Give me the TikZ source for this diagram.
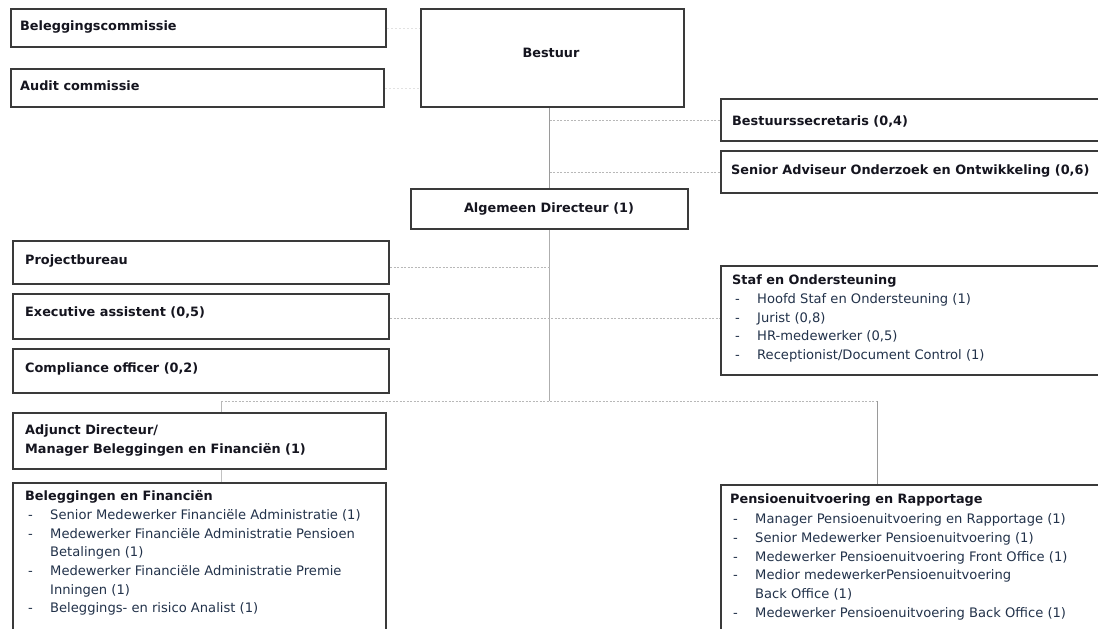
\documentclass[tikz,border=0pt]{standalone}
\usepackage{fontspec}
\setmainfont{DejaVu Sans}
\usetikzlibrary{calc}
\definecolor{boxc}{HTML}{3A3A3A}
\definecolor{titlec}{HTML}{15151F}
\definecolor{itemc}{HTML}{22324A}
\definecolor{linec}{HTML}{9A9A9A}
\definecolor{dotc}{HTML}{B8B8B8}
\definecolor{faintc}{HTML}{E2E2E2}
\newcommand{\itm}[1]{\strut\hspace*{3pt}\makebox[22pt][l]{-}#1}
\newcommand{\cnt}[1]{\strut\hspace*{25pt}#1}
\begin{document}
\begin{tikzpicture}[x=1pt,y=-1pt,
  box/.style={draw=boxc, line width=2.2pt, fill=white, inner sep=0pt, anchor=north west},
  ttl/.style={font=\fontsize{12.85}{15}\selectfont\bfseries, text=titlec, inner sep=0pt, anchor=base west},
  lst/.style={font=\fontsize{13.1}{18.7}\selectfont, text=itemc, inner sep=0pt, anchor=north west, align=left},
  conn/.style={draw=linec, line width=0.8pt},
  dotconn/.style={draw=dotc, line width=0.9pt, dash pattern=on 2pt off 1.5pt},
  faint/.style={draw=faintc, line width=0.8pt, dash pattern=on 2pt off 2pt}
]
\useasboundingbox (0,0) rectangle (1098,629);
\begin{scope}
\clip (0,0) rectangle (1098,629);
% boxes
\node[box, minimum width=375pt, minimum height=38pt] (bc) at (10,8) {};
\node[box, minimum width=373pt, minimum height=38pt] (ac) at (10,68) {};
\node[box, minimum width=263pt, minimum height=98pt] (best) at (420,8) {};
\node[box, minimum width=400pt, minimum height=42pt] (bsec) at (720,98) {};
\node[box, minimum width=400pt, minimum height=42pt] (sadv) at (720,150) {};
\node[box, minimum width=277pt, minimum height=40pt] (alg) at (410,188) {};
\node[box, minimum width=376pt, minimum height=43pt] (proj) at (12,240) {};
\node[box, minimum width=376pt, minimum height=45pt] (exec) at (12,293) {};
\node[box, minimum width=376pt, minimum height=44pt] (comp) at (12,348) {};
\node[box, minimum width=400pt, minimum height=109pt] (staf) at (720,265) {};
\node[box, minimum width=373pt, minimum height=56pt] (adj) at (12,412) {};
\node[box, minimum width=373pt, minimum height=170pt] (belf) at (12,482) {};
\node[box, minimum width=400pt, minimum height=170pt] (pens) at (720,484) {};
% junctions
\coordinate (barL) at (221,401);
\coordinate (barR) at (877,401);
% connectors
\draw[faint] (bc.east) -- (bc.east -| best.west);
\draw[faint] (ac.east) -- (ac.east -| best.west);
\draw[conn] (alg.north |- best.south) -- (alg.north);
\draw[dotconn] (alg.north |- bsec.west) -- (bsec.west);
\draw[dotconn] (alg.north |- sadv.west) -- (sadv.west);
\draw[conn, draw=linec!80] (alg.south) -- (alg.south |- barL);
\draw[dotconn] ($(proj.east)+(0,5)$) -- ($(proj.east -| alg.south)+(0,5)$);
\draw[dotconn] ($(exec.east)+(0,2)$) -- ($(exec.east -| staf.west)+(0,2)$);
\draw[dotconn] (barL) -- (barR);
\draw[conn, draw=linec!70] (barL) -- (barL |- adj.north);
\draw[conn] (barR) -- (barR |- pens.north);
\draw[conn, draw=linec!60] (adj.south -| barL) -- (belf.north -| barL);
% texts
\node[ttl] (bct) at (20,30.5) {Beleggingscommissie};
\node[ttl] (act) at (20,90.5) {Audit commissie};
\node[ttl, anchor=base] (bestt) at (551,57.5) {Bestuur};
\node[ttl] (bsect) at (732,125.5) {Bestuurssecretaris (0,4)};
\node[ttl] (sadvt) at (731,174.5) {Senior Adviseur Onderzoek en Ontwikkeling (0,6)};
\node[ttl, anchor=base] (algt) at (549,212) {Algemeen Directeur (1)};
\node[ttl] (projt) at (25,264.5) {Projectbureau};
\node[ttl] (exect) at (25,316.5) {Executive assistent (0,5)};
\node[ttl] (compt) at (25,372.5) {Compliance officer (0,2)};
\node[ttl] (staft) at (732,284.5) {Staf en Ondersteuning};
\node[lst] (stafl) at (732,290.1) {\itm{Hoofd Staf en Ondersteuning (1)}\\
  \itm{Jurist (0,8)}\\
  \itm{HR-medewerker (0,5)}\\
  \itm{Receptionist/Document Control (1)}};
\node[ttl] (adjt1) at (25,434.5) {Adjunct Directeur/};
\node[ttl] (adjt2) at (25,453.5) {Manager Beleggingen en Financiën (1)};
\node[ttl] (belft) at (25,500.5) {Beleggingen en Financiën};
\node[lst] (belfl) at (25,506.2) {\itm{Senior Medewerker Financiële Administratie (1)}\\
  \itm{Medewerker Financiële Administratie Pensioen}\\
  \cnt{Betalingen (1)}\\
  \itm{Medewerker Financiële Administratie Premie}\\
  \cnt{Inningen (1)}\\
  \itm{Beleggings- en risico Analist (1)}};
\node[ttl] (penst) at (730,503.5) {Pensioenuitvoering en Rapportage};
\node[lst] (pensl) at (730,510.4) {\itm{Manager Pensioenuitvoering en Rapportage (1)}\\
  \itm{Senior Medewerker Pensioenuitvoering (1)}\\
  \itm{Medewerker Pensioenuitvoering Front Office (1)}\\
  \itm{Medior medewerkerPensioenuitvoering}\\
  \cnt{Back Office (1)}\\
  \itm{Medewerker Pensioenuitvoering Back Office (1)}};
\end{scope}
\end{tikzpicture}
\end{document}
